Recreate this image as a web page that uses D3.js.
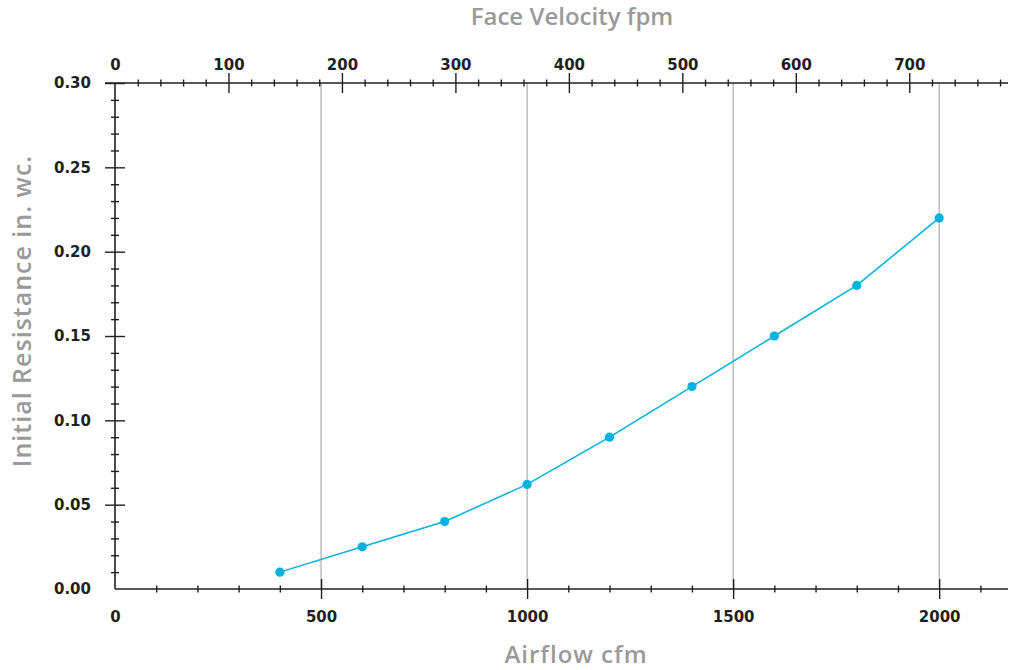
<!DOCTYPE html>
<html lang="en">
<head>
<meta charset="UTF-8">
<title>Initial Resistance</title>
<script src="https://d3js.org/d3.v7.min.js"></script>
<style>
  body { margin: 0; background: #fff; }
  .tick text { font-family: "DejaVu Sans", sans-serif; font-weight: bold; font-size: 15px; fill: #231f20; }
  .title { font-family: "Open Sans", sans-serif; font-weight: 600; font-size: 24px; fill: #9a9a9a; }
</style>
</head>
<body>
<svg width="1010" height="670"></svg>
<script>
  // data
  const airflow = [400, 600, 800, 1000, 1200, 1400, 1600, 1800, 2000];      // cfm
  const resistance = [0.01, 0.025, 0.04, 0.062, 0.09, 0.12, 0.15, 0.18, 0.22]; // in. wc.
  const cfmTicks = [0, 500, 1000, 1500, 2000];
  const fpmTicks = [0, 100, 200, 300, 400, 500, 600, 700];
  const resTicks = [0, 0.05, 0.10, 0.15, 0.20, 0.25, 0.30];
  const gridCfm = [500, 1000, 1500, 2000];

  const svg = d3.select('svg');
  const mLeft = 115, mRight = 1008, mTop = 83, mBottom = 589;

  const x = d3.scaleLinear().domain([0, 2167]).range([mLeft, mRight]);
  const xTop = d3.scaleLinear().domain([0, 787]).range([mLeft, mRight]); // fpm
  const y = d3.scaleLinear().domain([0, 0.30]).range([mBottom, mTop]);

  // grid lines
  svg.append('g').selectAll('line')
    .data(gridCfm)
    .enter()
    .append('line')
    .attr('x1', d => x(d)).attr('x2', d => x(d))
    .attr('y1', mTop).attr('y2', mBottom)
    .attr('stroke', '#9a9a9a')
    .attr('stroke-width', 1);

  // axis ticks crossing the line on both sides, none at zero
  function crossTicks(g, len, vertical) {
    g.selectAll('.tick line')
      .attr('stroke', '#231f20')
      .attr('stroke-width', 1.4)
      .attr(vertical ? 'x1' : 'y1', -len)
      .attr(vertical ? 'x2' : 'y2', len)
      .attr('display', d => d === 0 ? 'none' : null);
    g.select('.domain').remove();
  }

  const minorCfm = d3.range(100, 2167, 100).filter(d => d % 500 !== 0);
  const minorFpm = d3.range(20, 787, 20).filter(d => d % 100 !== 0);
  const minorRes = d3.range(1, 30).map(d => d / 100).filter(d => Math.round(d * 100) % 5 !== 0);

  // bottom axis
  const gb = svg.append('g').attr('transform', `translate(0, ${mBottom})`);
  gb.append('g').call(d3.axisBottom(x).tickValues(minorCfm).tickFormat('')).call(g => crossTicks(g, 3.5, false));
  gb.append('g').call(d3.axisBottom(x).tickValues(cfmTicks).tickFormat(d3.format('d')).tickPadding(16)).call(g => crossTicks(g, 10, false));
  gb.append('line').attr('x1', mLeft).attr('x2', mRight).attr('stroke', '#231f20').attr('stroke-width', 1.6);

  // top axis
  const gt = svg.append('g').attr('transform', `translate(0, ${mTop})`);
  gt.append('g').call(d3.axisTop(xTop).tickValues(minorFpm).tickFormat('')).call(g => crossTicks(g, 3.5, false));
  gt.append('g').call(d3.axisTop(xTop).tickValues(fpmTicks).tickFormat(d3.format('d')).tickPadding(7)).call(g => crossTicks(g, 10, false));
  gt.append('line').attr('x1', mLeft - 10).attr('x2', mRight).attr('stroke', '#231f20').attr('stroke-width', 1.6);

  // left axis
  const gl = svg.append('g').attr('transform', `translate(${mLeft}, 0)`);
  gl.append('g').call(d3.axisLeft(y).tickValues(minorRes).tickFormat('')).call(g => crossTicks(g, 4, true));
  gl.append('g').call(d3.axisLeft(y).tickValues(resTicks).tickFormat(d3.format('.2f')).tickPadding(18)).call(g => crossTicks(g, 10, true));
  gl.append('line').attr('y1', mTop).attr('y2', mBottom).attr('stroke', '#231f20').attr('stroke-width', 1.6);

  // series
  const pts = airflow.map((d, i) => [d, resistance[i]]);
  const path = d3.line().x(d => x(d[0])).y(d => y(d[1]));
  svg.append('path')
    .attr('d', path(pts))
    .attr('fill', 'none')
    .attr('stroke', '#00b2dd')
    .attr('stroke-width', 1.5);
  svg.selectAll('circle')
    .data(pts)
    .enter()
    .append('circle')
    .attr('cx', d => x(d[0]))
    .attr('cy', d => y(d[1]))
    .attr('r', 4.6)
    .attr('fill', '#00b2dd');

  // titles
  svg.append('text').attr('class', 'title').attr('x', 572).attr('y', 25).attr('text-anchor', 'middle').text('Face Velocity fpm');
  svg.append('text').attr('class', 'title').attr('x', 576).attr('y', 663).attr('text-anchor', 'middle')
    .attr('letter-spacing', 1).text('Airflow cfm');
  svg.append('text').attr('class', 'title')
    .attr('transform', 'translate(31, 311) rotate(-90)')
    .attr('text-anchor', 'middle')
    .attr('letter-spacing', 1)
    .style('font-size', '25px')
    .text('Initial Resistance in. wc.');
</script>
</body>
</html>
